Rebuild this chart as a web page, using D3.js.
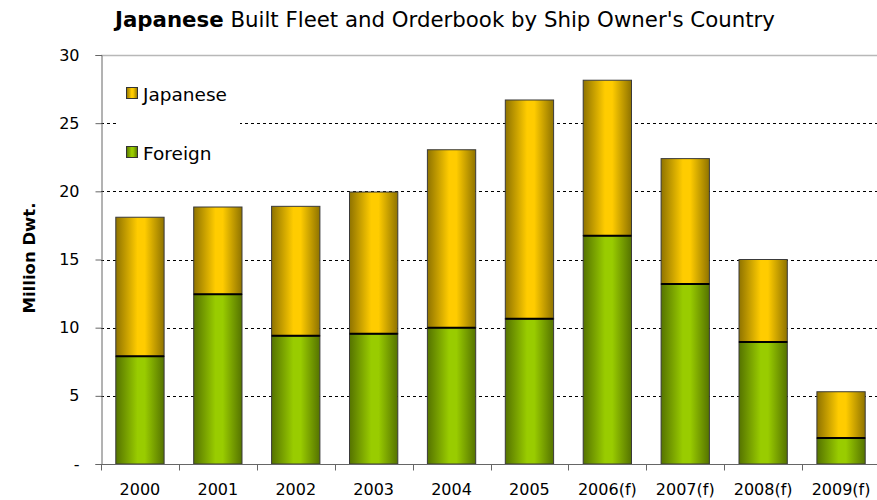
<!DOCTYPE html>
<html>
<head>
<meta charset="utf-8">
<script src="https://cdn.jsdelivr.net/npm/d3@7"></script>
<style>
  html, body { margin: 0; padding: 0; background: #ffffff; }
  svg { display: block; font-family: "DejaVu Sans", Verdana, sans-serif; }
</style>
</head>
<body>
<svg id="chart" width="877" height="500"></svg>
<script>
// Fleet data, million dwt
const years = ["2000", "2001", "2002", "2003", "2004", "2005", "2006(f)", "2007(f)", "2008(f)", "2009(f)"];
const foreign = [7.9, 12.45, 9.4, 9.55, 10.0, 10.65, 16.75, 13.2, 8.95, 1.9];
const japanese = [10.2, 6.4, 9.5, 10.4, 13.05, 16.05, 11.4, 9.2, 6.05, 3.4];
const seriesNames = ["Foreign", "Japanese"];
const yTicks = [0, 5, 10, 15, 20, 25, 30];

const svg = d3.select("#chart");
const margin = { left: 101, top: 55, right: -3, bottom: 36 };
const W = 877, H = 500;
const plotW = W - margin.left - margin.right;
const plotH = H - margin.top - margin.bottom;

const x = d3.scaleBand().domain(years).range([margin.left, margin.left + plotW]).paddingInner(0.38).paddingOuter(0.19);
const y = d3.scaleLinear().domain([0, 30]).range([margin.top + plotH, margin.top]);

// Gradients: dark edges, bright centre
const defs = svg.append("defs");
function grad(id, edge, mid) {
  const g = defs.append("linearGradient").attr("id", id).attr("x1", "0%").attr("x2", "100%").attr("y1", "0%").attr("y2", "0%");
  g.append("stop").attr("offset", "0%").attr("stop-color", edge);
  g.append("stop").attr("offset", "45%").attr("stop-color", mid);
  g.append("stop").attr("offset", "60%").attr("stop-color", mid);
  g.append("stop").attr("offset", "100%").attr("stop-color", edge);
}
grad("gJap", "#8f7300", "#ffcc00");
grad("gFor", "#557300", "#99cc00");
const fills = { Japanese: "url(#gJap)", Foreign: "url(#gFor)" };

// Title
svg.append("text").attr("x", 445).attr("y", 27).attr("text-anchor", "middle")
  .attr("font-size", 21.3).attr("fill", "#000")
  .call(t => {
    t.append("tspan").attr("font-weight", "bold").text("Japanese");
    t.append("tspan").text(" Built Fleet and Orderbook by Ship Owner's Country");
  });

// Gridlines
svg.append("g").selectAll("line").data(yTicks.filter(v => v > 0 && v < 30)).join("line")
  .attr("x1", margin.left).attr("x2", W)
  .attr("y1", d => Math.round(y(d)) + 0.5).attr("y2", d => Math.round(y(d)) + 0.5)
  .attr("stroke", "#000").attr("stroke-width", 1).attr("stroke-dasharray", "3,3");
svg.append("line").attr("x1", margin.left).attr("x2", W)
  .attr("y1", Math.round(y(30)) + 0.5).attr("y2", Math.round(y(30)) + 0.5)
  .attr("stroke", "#b8b8b8").attr("stroke-width", 1.5);

// Legend (white box hides gridline behind it)
const legend = svg.append("g");
legend.append("rect").attr("x", 116).attr("y", 70).attr("width", 124).attr("height", 100).attr("fill", "#fff");
const legendItems = [{ name: "Japanese", yy: 94 }, { name: "Foreign", yy: 153 }];
legendItems.forEach(it => {
  legend.append("rect").attr("x", 126.5).attr("y", it.yy - 6.5).attr("width", 11).attr("height", 11)
    .attr("fill", fills[it.name]).attr("stroke", "#333").attr("stroke-width", 1);
  legend.append("text").attr("x", 143).attr("y", it.yy).attr("dy", "0.36em")
    .attr("font-size", 18.5).attr("fill", "#000").text(it.name);
});

// Stacked bars
const rows = years.map((yr, i) => ({ year: yr, Foreign: foreign[i], Japanese: japanese[i] }));
const stack = d3.stack().keys(seriesNames)(rows);
const bars = svg.append("g");
stack.forEach(layer => {
  bars.append("g").selectAll("rect").data(layer).join("rect")
    .attr("x", d => x(d.data.year))
    .attr("width", x.bandwidth())
    .attr("y", d => y(d[1]))
    .attr("height", d => y(d[0]) - y(d[1]))
    .attr("fill", fills[layer.key])
    .attr("stroke", "#3a3a3a").attr("stroke-width", 1);
});
// Dividers between segments
bars.append("g").selectAll("line").data(rows).join("line")
  .attr("x1", d => x(d.year)).attr("x2", d => x(d.year) + x.bandwidth())
  .attr("y1", d => y(d.Foreign)).attr("y2", d => y(d.Foreign))
  .attr("stroke", "#000").attr("stroke-width", 2);

// Y axis
const yAxis = d3.axisLeft(y).tickValues(yTicks).tickSize(6).tickPadding(16)
  .tickFormat(d => d === 0 ? "-" : d3.format("d")(d));
const gy = svg.append("g").attr("transform", `translate(${margin.left + 0.5},0)`).call(yAxis);
gy.select(".domain").attr("stroke", "#666");
gy.selectAll(".tick line").attr("stroke", "#666");
gy.selectAll(".tick text").attr("font-size", 16).attr("fill", "#000").attr("font-family", "DejaVu Sans, Verdana, sans-serif");

// X axis: ticks at band boundaries
const gx = svg.append("g").attr("transform", `translate(0,${Math.round(y(0)) + 0.5})`);
gx.append("line").attr("x1", margin.left).attr("x2", W).attr("stroke", "#666");
const step = x.step();
const boundaries = d3.range(years.length + 1).map(i => margin.left + i * step);
gx.selectAll("line.tk").data(boundaries).join("line").attr("class", "tk")
  .attr("x1", d => Math.round(d) + 0.5).attr("x2", d => Math.round(d) + 0.5)
  .attr("y1", 0).attr("y2", 6).attr("stroke", "#666");
gx.selectAll("text").data(years).join("text")
  .attr("x", d => x(d) + x.bandwidth() / 2).attr("y", 25)
  .attr("text-anchor", "middle").attr("dy", "0.32em")
  .attr("font-size", 16).attr("fill", "#000").text(d => d);

// Y axis title
svg.append("text").attr("transform", "translate(35,258) rotate(-90)")
  .attr("text-anchor", "middle").attr("font-size", 16.5).attr("font-weight", "bold")
  .attr("fill", "#000").text("Million Dwt.");
</script>
</body>
</html>
